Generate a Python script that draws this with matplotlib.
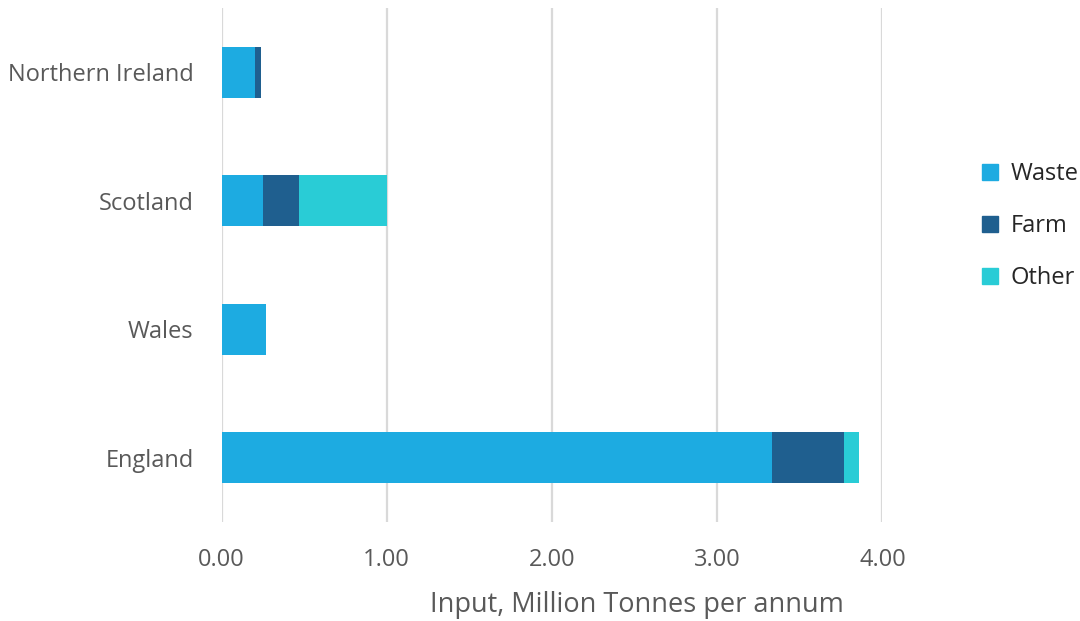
import numpy as np
import matplotlib
matplotlib.use('Agg')
import matplotlib.pyplot as plt
from matplotlib.patches import Patch

plt.rcParams['font.family'] = ['Open Sans', 'DejaVu Sans']

#%% data (million tonnes per annum)
nations = ['England', 'Wales', 'Scotland', 'Northern Ireland']
waste = np.array([3.33, 0.27, 0.25, 0.20])
farm = np.array([0.44, 0.00, 0.22, 0.04])
other = np.array([0.09, 0.00, 0.53, 0.00])

series = ['Waste', 'Farm', 'Other']
colores = ['#1DABE1', '#1F5F8F', '#29CCD6']

#%% grafica
fig = plt.figure(figsize=(10.8, 6.21), dpi=100)
ax = fig.add_axes([0.2051, 0.1594, 0.6120, 0.8277])

y = np.arange(len(nations))
left = np.zeros(len(nations))
for vals, col, name in zip([waste, farm, other], colores, series):
    ax.barh(y, vals, left=left, height=0.40, color=col, label=name, zorder=3)
    left = left + vals

ax.set_xlim(0, 4)
ax.set_ylim(-0.5, 3.5)
ax.set_xticks([0, 1, 2, 3, 4])
ax.set_xticklabels(['%.2f' % v for v in [0, 1, 2, 3, 4]])
ax.set_yticks(y)
ax.set_yticklabels(nations)

for s in ax.spines.values():
    s.set_visible(False)
ax.grid(axis='x', color='#d9d9d9', linewidth=1.6, zorder=0)
ax.tick_params(axis='both', length=0, colors='#595959', labelsize=17)
ax.tick_params(axis='x', pad=19)
ax.tick_params(axis='y', pad=20)

fig.text(0.59, 0.026, 'Input, Million Tonnes per annum', ha='center', va='center',
         fontsize=19.5, color='#595959')

handles = [Patch(color=c) for c in colores]
fig.legend(handles, series, loc='center left', bbox_to_anchor=(0.909, 0.636),
           frameon=False, handlelength=0.68, handleheight=0.68, handletextpad=0.55,
           labelspacing=1.18, borderpad=0, borderaxespad=0, fontsize=17,
           labelcolor='#262626')

fig.savefig('out.png', dpi=100)
